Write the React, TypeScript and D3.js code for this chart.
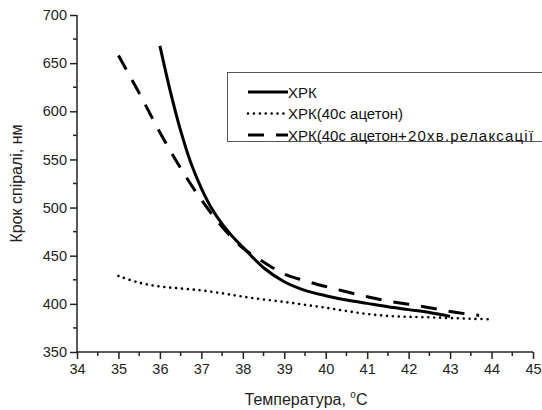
import { useEffect, useRef } from 'react';
import * as d3 from 'd3';

// temperature, °C and helix pitch, nm
const tempsXrk = [36, 36.25, 36.5, 36.75, 37, 37.25, 37.5, 37.75, 38, 38.5, 39, 39.5, 40, 40.5, 41, 41.5, 42, 42.5, 43];
const pitchXrk = [668, 621, 580, 546, 520, 499, 483, 470, 459, 437.5, 423, 414, 408.5, 404, 400.5, 397, 394, 391, 387];

const tempsAcetone = [35, 35.5, 36, 36.5, 37, 37.5, 38, 38.5, 39, 39.5, 40, 40.5, 41, 41.5, 42, 42.5, 43, 43.5, 44];
const pitchAcetone = [429, 422, 418, 416, 414, 411, 407.5, 404.5, 402, 399, 396, 392.5, 389.5, 387.5, 386.5, 386, 385.3, 384.5, 384];

const tempsRelax = [35, 35.5, 36, 36.5, 37, 37.5, 38, 38.5, 39, 39.5, 40, 40.5, 41, 41.5, 42, 42.5, 43, 43.5, 43.7];
const pitchRelax = [658, 619, 578, 541, 508, 480, 458, 443.5, 431, 424, 418, 412.5, 407.5, 403, 399.5, 396, 392, 389, 388];

const xTicks = [34, 35, 36, 37, 38, 39, 40, 41, 42, 43, 44, 45];
const yTicks = [350, 400, 450, 500, 550, 600, 650, 700];

// legend text split so the tail can be spaced like the original
const legendLabels = [['ХРК', ''], ['ХРК(40с ацетон)', ''], ['ХРК(40с ацетон', '+20хв.релаксації']];
const dashStyles = [null, '0.01,5.9', '16,12'];
const strokeWidths = [3, 2.6, 3];

const App = () => {
  const svgRef = useRef<SVGSVGElement>(null);

  useEffect(() => {
    const width = 542;
    const height = 410;
    const font = "'Liberation Sans', Arial, sans-serif";

    const svg = d3.select(svgRef.current)
      .attr('width', width)
      .attr('height', height)
      .style('font-family', font);

    svg.selectAll('*').remove();

    const x = d3.scaleLinear().domain([34, 45]).range([77, 533]);
    const y = d3.scaleLinear().domain([350, 700]).range([352, 15]);

    // minor ticks
    const xMinor = d3.range(34.5, 45, 1);
    const yMinor = d3.range(375, 700, 50);

    const g = svg.append('g');

    g.selectAll('line.xminor').data(xMinor).enter().append('line')
      .attr('x1', d => x(d)).attr('x2', d => x(d))
      .attr('y1', 352).attr('y2', 356)
      .attr('stroke', '#222').attr('stroke-width', 1.5);
    g.selectAll('line.yminor').data(yMinor).enter().append('line')
      .attr('x1', 73).attr('x2', 77)
      .attr('y1', d => y(d)).attr('y2', d => y(d))
      .attr('stroke', '#222').attr('stroke-width', 1.5);

    const xAxis = d3.axisBottom(x).tickValues(xTicks).tickSize(7).tickPadding(5).tickFormat(d3.format('d'));
    const yAxis = d3.axisLeft(y).tickValues(yTicks).tickSize(7).tickPadding(3).tickFormat(d3.format('d'));

    const gx = g.append('g').attr('transform', 'translate(0,352)').call(xAxis);
    const gy = g.append('g').attr('transform', 'translate(77,0)').call(yAxis);

    [gx, gy].forEach(ax => {
      ax.select('.domain').attr('stroke', '#222').attr('stroke-width', 1.5);
      ax.selectAll('.tick line').attr('stroke', '#222').attr('stroke-width', 1.5);
      ax.selectAll('.tick text')
        .attr('fill', '#222')
        .style('font-size', '14.5px')
        .style('font-family', font);
    });
    gx.select('.domain').attr('d', `M${x(34)},0H${x(45)}`);
    gy.select('.domain').attr('d', `M0,${y(350)}V${y(700)}`);

    // axis titles
    const xt = g.append('text')
      .attr('x', 306).attr('y', 405)
      .attr('text-anchor', 'middle')
      .style('font-size', '16px')
      .attr('fill', '#222');
    xt.append('tspan').text('Температура, ');
    xt.append('tspan').text('o').attr('dy', -7).style('font-size', '10px');
    xt.append('tspan').text('C').attr('dy', 7);

    g.append('text')
      .attr('transform', `translate(22,${(y(350) + y(700)) / 2}) rotate(-90)`)
      .attr('text-anchor', 'middle')
      .style('font-size', '16px')
      .attr('fill', '#222')
      .text('Крок спіралі, нм');

    // curves
    const line = d3.line<[number, number]>()
      .x(d => x(d[0]))
      .y(d => y(d[1]))
      .curve(d3.curveCatmullRom.alpha(0.5));

    const series: [number, number][][] = [
      tempsXrk.map((t, i) => [t, pitchXrk[i]]),
      tempsAcetone.map((t, i) => [t, pitchAcetone[i]]),
      tempsRelax.map((t, i) => [t, pitchRelax[i]]),
    ];

    series.forEach((s, i) => {
      g.append('path')
        .attr('d', line(s))
        .attr('fill', 'none')
        .attr('stroke', '#000')
        .attr('stroke-width', strokeWidths[i])
        .attr('stroke-dasharray', dashStyles[i])
        .attr('stroke-linecap', i === 1 ? 'round' : 'butt');
    });

    // legend
    const lg = svg.append('g');
    lg.append('rect')
      .attr('x', 227.5).attr('y', 72.5)
      .attr('width', 330).attr('height', 69)
      .attr('fill', '#fff')
      .attr('stroke', '#555')
      .attr('stroke-width', 1);

    legendLabels.forEach(([head, tail], i) => {
      const ly = 92 + i * 21.5;
      lg.append('line')
        .attr('x1', 248).attr('x2', 288)
        .attr('y1', ly).attr('y2', ly)
        .attr('stroke', '#000')
        .attr('stroke-width', strokeWidths[i])
        .attr('stroke-dasharray', dashStyles[i])
        .attr('stroke-linecap', i === 1 ? 'round' : 'butt');
      const t = lg.append('text')
        .attr('x', 288).attr('y', ly + 5.5)
        .style('font-size', '15px')
        .attr('fill', '#111');
      t.append('tspan').text(head);
      if (tail) t.append('tspan').text(tail).style('letter-spacing', '1.2px');
    });
  }, []);

  return (
    <div style={{ position: 'absolute', left: 0, top: 0 }}>
      <svg ref={svgRef} style={{ display: 'block' }}></svg>
    </div>
  );
};

export default App;
